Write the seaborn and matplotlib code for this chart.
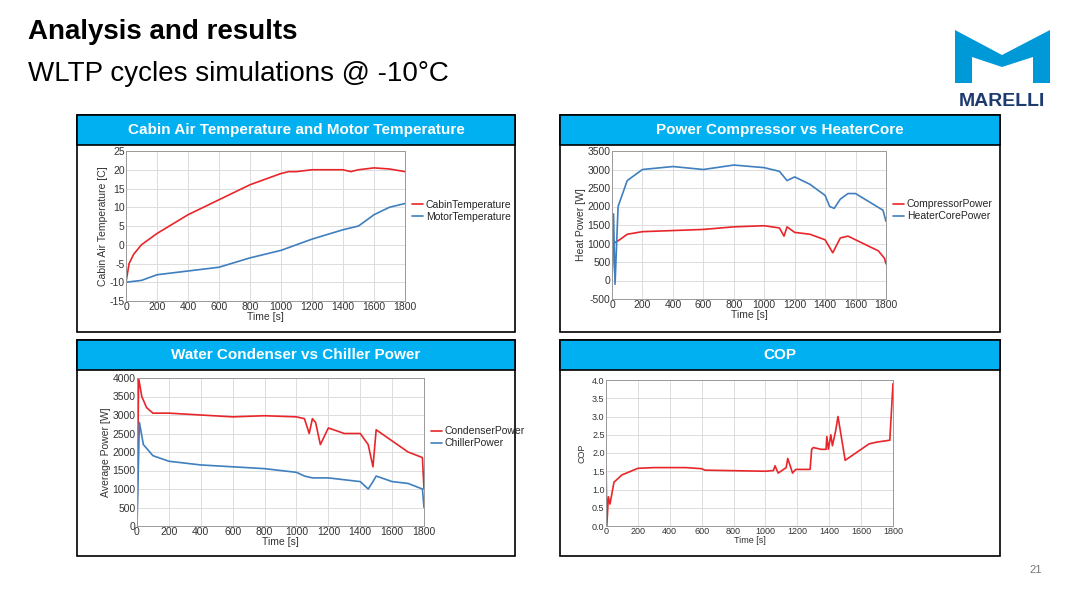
import numpy as np
import pandas as pd
import matplotlib.pyplot as plt
import seaborn as sns
from matplotlib.patches import Rectangle, Polygon

# ---- data ----
cabin_t = [0, 20, 50, 100, 200, 400, 600, 800, 1000, 1050, 1100, 1200, 1400, 1450, 1500, 1600, 1700, 1800]
cabin_v = [-10, -5, -2.5, 0, 3, 8, 12, 16, 19, 19.5, 19.5, 20, 20, 19.5, 20, 20.5, 20.2, 19.5]
motor_t = [0, 100, 200, 400, 600, 800, 1000, 1200, 1400, 1500, 1600, 1700, 1800]
motor_v = [-10, -9.5, -8, -7, -6, -3.5, -1.5, 1.5, 4, 5, 8, 10, 11]

comp_t = [0, 10, 50, 100, 200, 400, 600, 800, 1000, 1100, 1130, 1150, 1200, 1300, 1400, 1450, 1500, 1550, 1650, 1750, 1790, 1800]
comp_v = [50, 1000, 1100, 1250, 1320, 1350, 1380, 1450, 1480, 1420, 1200, 1450, 1300, 1250, 1100, 750, 1150, 1200, 1000, 800, 600, 450]
heat_t = [0, 10, 20, 40, 100, 200, 400, 600, 800, 1000, 1100, 1150, 1200, 1300, 1400, 1430, 1460, 1500, 1550, 1600, 1700, 1780, 1800]
heat_v = [0, 1800, -100, 2000, 2700, 3000, 3080, 3000, 3120, 3050, 2950, 2700, 2800, 2600, 2300, 2000, 1950, 2200, 2350, 2350, 2100, 1900, 1600]

cond_t = [0, 10, 30, 60, 100, 200, 400, 600, 800, 1000, 1050, 1080, 1100, 1120, 1150, 1200, 1300, 1400, 1450, 1480, 1500, 1600, 1700, 1790, 1800]
cond_v = [0, 4000, 3500, 3200, 3050, 3050, 3000, 2950, 2980, 2950, 2900, 2500, 2900, 2800, 2200, 2650, 2500, 2500, 2200, 1600, 2600, 2300, 2000, 1850, 1000]
chil_t = [0, 15, 40, 100, 200, 400, 600, 800, 1000, 1050, 1100, 1200, 1400, 1450, 1480, 1500, 1600, 1700, 1790, 1800]
chil_v = [0, 2800, 2200, 1900, 1750, 1650, 1600, 1550, 1450, 1350, 1300, 1300, 1200, 1000, 1200, 1350, 1200, 1150, 1000, 500]

cop_t = [0, 5, 15, 25, 50, 100, 200, 300, 500, 600, 620, 1000, 1050, 1060, 1080, 1130, 1140, 1170, 1190, 1280, 1290, 1300,
         1350, 1380, 1385, 1395, 1410, 1420, 1440, 1455, 1500, 1550, 1600, 1650, 1700, 1780, 1800]
cop_v = [1.9, 0, 0.8, 0.6, 1.2, 1.4, 1.58, 1.6, 1.6, 1.57, 1.53, 1.5, 1.52, 1.65, 1.45, 1.6, 1.85, 1.45, 1.55, 1.55, 2.1, 2.15,
         2.1, 2.1, 2.45, 2.1, 2.5, 2.2, 2.6, 3.0, 1.8, 1.95, 2.1, 2.25, 2.3, 2.35, 3.9]

RED = "#e8262a"
BLUE = "#3f7fbf"
W, H = 1080, 608

sns.set_theme(style="whitegrid")
plt.rcParams['font.family'] = ['Liberation Sans', 'DejaVu Sans']
plt.rcParams['axes.unicode_minus'] = False
fig = plt.figure(figsize=(10.8, 6.08), dpi=100)


def fx(x):
    return x / W


def fy(y):
    return 1 - y / H


def panel(box, title, axpos):
    x0, y0, x1, y1 = box
    fig.patches.append(Rectangle((fx(x0), fy(y1)), fx(x1 - x0), (y1 - y0) / H, transform=fig.transFigure,
                                 facecolor="white", edgecolor="black", lw=1.2, zorder=-2))
    fig.patches.append(Rectangle((fx(x0), fy(y0 + 30)), fx(x1 - x0), 30 / H, transform=fig.transFigure,
                                 facecolor="#00b0f0", edgecolor="black", lw=1.2, zorder=-1))
    fig.text(fx((x0 + x1) / 2), fy(y0 + 15), title, color="white", fontsize=11, fontweight="bold",
             ha="center", va="center")
    a0, b0, a1, b1 = axpos
    ax = fig.add_axes([fx(a0), fy(b1), fx(a1 - a0), (b1 - b0) / H])
    ax.grid(True, color="#dddddd", lw=0.7)
    for s in ax.spines.values():
        s.set_color("#999999")
        s.set_linewidth(0.7)
    ax.tick_params(labelsize=7.5, pad=1, length=0, labelcolor="#333333")
    return ax


def series(ax, pairs, legend=True):
    for t, v, lab, col in pairs:
        df = pd.DataFrame({"t": t, "v": v})
        sns.lineplot(data=df, x="t", y="v", ax=ax, color=col, lw=1.2, label=lab if legend else None)
    ax.set_xlim(0, 1800)
    ax.set_xticks(range(0, 1801, 200))
    ax.set_xlabel("Time [s]", fontsize=7.5, labelpad=0, color="#333333")
    if legend:
        ax.legend(loc="center left", bbox_to_anchor=(1.0, 0.6), frameon=False, fontsize=7.5,
                  handlelength=1.0, handletextpad=0.3, labelspacing=0.2, borderaxespad=0.3)


ax1 = panel((77, 115, 515, 332), "Cabin Air Temperature and Motor Temperature", (126, 151, 405, 301))
series(ax1, [(cabin_t, cabin_v, "CabinTemperature", RED), (motor_t, motor_v, "MotorTemperature", BLUE)])
ax1.set_ylim(-15, 25)
ax1.set_yticks(range(-15, 26, 5))
ax1.set_ylabel("Cabin Air Temperature [C]", fontsize=7.5, labelpad=1, color="#333333")

ax2 = panel((560, 115, 1000, 332), "Power Compressor vs HeaterCore", (612, 151, 886, 299))
series(ax2, [(comp_t, comp_v, "CompressorPower", RED), (heat_t, heat_v, "HeaterCorePower", BLUE)])
ax2.set_ylim(-500, 3500)
ax2.set_yticks(range(-500, 3501, 500))
ax2.set_ylabel("Heat Power [W]", fontsize=7.5, labelpad=1, color="#333333")

ax3 = panel((77, 340, 515, 556), "Water Condenser vs Chiller Power", (137, 378, 424, 526))
series(ax3, [(cond_t, cond_v, "CondenserPower", RED), (chil_t, chil_v, "ChillerPower", BLUE)])
ax3.set_ylim(0, 4000)
ax3.set_yticks(range(0, 4001, 500))
ax3.set_ylabel("Average Power [W]", fontsize=7.5, labelpad=1, color="#333333")

ax4 = panel((560, 340, 1000, 556), "COP", (606, 380, 893, 526))
series(ax4, [(cop_t, cop_v, None, RED)], legend=False)
ax4.set_ylim(0, 4)
ax4.set_yticks(np.arange(0, 4.01, 0.5))
ax4.set_yticklabels([f"{v:.1f}" for v in np.arange(0, 4.01, 0.5)])
ax4.tick_params(labelsize=6.5)
ax4.set_xlabel("Time [s]", fontsize=6.5, labelpad=0)
ax4.set_ylabel("COP", fontsize=6.5, labelpad=4, color="#333333")

# slide titles
fig.text(fx(28), fy(32), "Analysis and results", fontsize=20, fontweight="bold", va="center", color="black")
fig.text(fx(28), fy(74), "WLTP cycles simulations @ -10°C", fontsize=20, va="center", color="black")
fig.text(fx(1042), fy(570), "21", fontsize=8, color="#777777", ha="right", va="center")

# logo
m_pts = [(955, 30), (1002, 55), (1050, 30), (1050, 83), (1033, 83), (1033, 57), (1002, 67),
         (972, 57), (972, 83), (955, 83)]
fig.patches.append(Polygon([(fx(x), fy(y)) for x, y in m_pts], closed=True, transform=fig.transFigure,
                           facecolor="#0099d8", edgecolor="none"))
fig.text(fx(1002), fy(101), "MARELLI", fontsize=14, fontweight="bold", color="#1d3b6e", ha="center", va="center")

fig.savefig("out.png", dpi=100)
